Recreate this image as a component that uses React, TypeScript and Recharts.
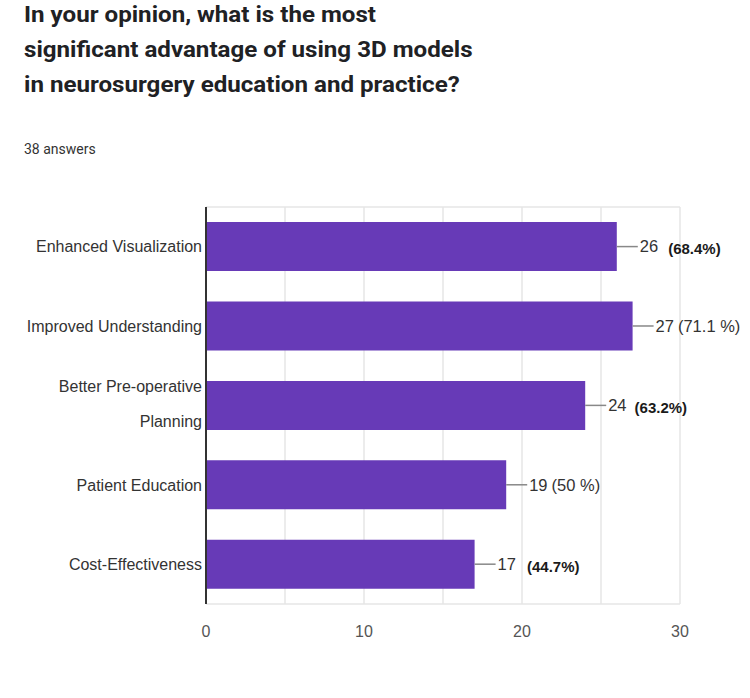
import React from "react";
import { BarChart, Bar, XAxis, YAxis, CartesianGrid, LabelList } from "recharts";

const categories = [
  "Enhanced Visualization",
  "Improved Understanding",
  "Better Pre-operative Planning",
  "Patient Education",
  "Cost-Effectiveness",
];
const counts = [26, 27, 24, 19, 17];
const countLabels = ["26", "27", "24", "19", "17"];
const percentLabels = ["(68.4%)", "(71.1 %)", "(63.2%)", "(50 %)", "(44.7%)"];
const percentBold = [true, false, true, false, true];
const percentGap = [10, 4, 8, 4, 11];
const xTicks = [0, 5, 10, 15, 20, 25, 30];
const labeledTicks = [0, 10, 20, 30];
const titleLines = [
  "In your opinion, what is the most",
  "significant advantage of using 3D models",
  "in neurosurgery education and practice?",
];
const answersText = "38 answers";

const data = categories.map((c, i) => ({ name: c, value: counts[i] }));

const FONT = "'Liberation Sans', Arial, sans-serif";

const YTick = (props: any) => {
  const { x, y, payload } = props;
  const label: string = payload.value;
  let lines = [label];
  if (label === "Better Pre-operative Planning") lines = ["Better Pre-operative", "Planning"];
  const lh = 35;
  const start = -((lines.length - 1) * lh) / 2 - (lines.length > 1 ? 2 : 0);
  return (
    <g>
      {lines.map((l, i) => (
        <text
          key={i}
          x={x + 4}
          y={y + start + i * lh}
          dy="0.35em"
          textAnchor="end"
          fill="#333"
          fontSize={16}
          fontFamily={FONT}
        >
          {l}
        </text>
      ))}
    </g>
  );
};

const XTick = (props: any) => {
  const { x, y, payload } = props;
  if (!labeledTicks.includes(payload.value)) return null;
  return (
    <text x={x} y={y} dy="0.71em" textAnchor="middle" fill="#555" fontSize={16} fontFamily={FONT}>
      {payload.value}
    </text>
  );
};

const ValueLabel = (props: any) => {
  const { x, y, width, height, index } = props;
  const ex = x + width;
  const cy = y + height / 2;
  const bold = percentBold[index];
  return (
    <g>
      <line x1={ex} y1={cy} x2={ex + 21} y2={cy} stroke="#888" strokeWidth={1.5} />
      <text x={ex + 23} y={cy} dy="0.35em" fontSize={16.5} fontFamily={FONT} fill="#333">
        <tspan>{countLabels[index]}</tspan>
        <tspan
          dx={percentGap[index]}
          dy={bold ? 2 : 0}
          fill={bold ? "#1a1a1a" : "#333"}
          fontWeight={bold ? 600 : 400}
          fontSize={bold ? 15 : 16.5}
        >
          {percentLabels[index]}
        </tspan>
      </text>
    </g>
  );
};

export default function App() {
  return (
    <div
      style={{
        position: "absolute",
        left: 0,
        top: 0,
        width: 750,
        height: 698,
        background: "#fff",
        overflow: "hidden",
      }}
    >
      <div
        style={{
          position: "absolute",
          left: 24,
          top: -3,
          fontFamily: "Roboto, 'Noto Sans', sans-serif",
          fontWeight: 700,
          fontSize: 22,
          lineHeight: "35px",
          color: "#202124",
          whiteSpace: "nowrap",
          transform: "scaleX(1.097)",
          transformOrigin: "left top",
        }}
      >
        {titleLines.map((l, i) => (
          <div key={i}>{l}</div>
        ))}
      </div>
      <div
        style={{
          position: "absolute",
          left: 24,
          top: 141,
          fontFamily: "Roboto, 'Noto Sans', sans-serif",
          fontSize: 14,
          color: "#333",
        }}
      >
        {answersText}
      </div>
      <div style={{ position: "absolute", left: 0, top: 0 }}>
        <BarChart
          width={750}
          height={698}
          data={data}
          layout="vertical"
          margin={{ top: 207, right: 70, bottom: 64, left: 6 }}
          barCategoryGap="19%"
        >
          <CartesianGrid
            stroke="#e6e6e6"
            strokeWidth={1.5}
            horizontalCoordinatesGenerator={({ offset }: any) => [offset.top, offset.top + offset.height]}
          />
          <XAxis
            type="number"
            domain={[0, 30]}
            ticks={xTicks}
            axisLine={false}
            tickLine={false}
            tickMargin={16}
            tick={<XTick />}
          />
          <YAxis
            type="category"
            dataKey="name"
            width={200}
            axisLine={{ stroke: "#333", strokeWidth: 2 }}
            tickLine={false}
            tick={<YTick />}
            interval={0}
          />
          <Bar dataKey="value" fill="#673ab7" isAnimationActive={false}>
            <LabelList dataKey="value" content={<ValueLabel />} />
          </Bar>
        </BarChart>
      </div>
    </div>
  );
}
